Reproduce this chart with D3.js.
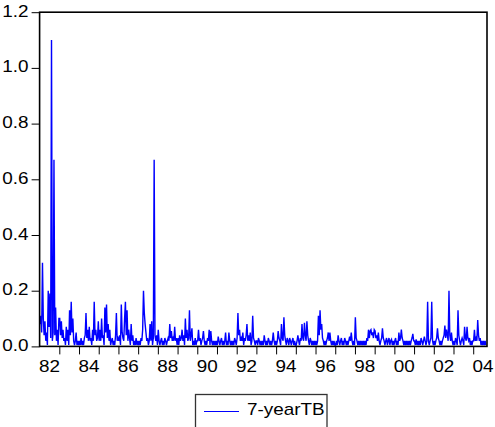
<!DOCTYPE html>
<html><head><meta charset="utf-8">
<script src="https://cdn.jsdelivr.net/npm/d3@7"></script>
<style>body{margin:0;background:#fff}svg{display:block}</style>
</head><body>
<svg id="c" width="495" height="427"></svg>
<script>
const seriesName = "7-yearTB";
const startYear = 1982;
const periodsPerYear = 24;
const yTickValues = [0, 0.2, 0.4, 0.6, 0.8, 1.0, 1.2];
const yearTicks = [1983,1984,1985,1986,1987,1988,1989,1990,1991,1992,1993,1994,1995,1996,1997,1998,1999,2000,2001,2002,2003,2004];
const yearLabels = ["82","84","86","88","90","92","94","96","98","00","02","04"];
const labelYears = [1982,1984,1986,1988,1990,1992,1994,1996,1998,2000,2002,2004];

const v1982 = [0.08,0.11,0.05,0.30,0.10,0.04,0.09,0.02,0.05,0.005,0.20,0.07,0.19,0.03,1.10,0.02,0.05,0.67,0.04,0.14,0.02,0.06,0.005,0.10];
const v1983 = [0.10,0.04,0.09,0.03,0.06,0.02,0.03,0.005,0.07,0.02,0.06,0.005,0.13,0.04,0.16,0.05,0.10,0.02,0.005,0.02,0.05,0.005,0.02,0.005];
const v1984 = [0.02,0.005,0.03,0.005,0.02,0.005,0.03,0.04,0.12,0.03,0.06,0.02,0.07,0.02,0.03,0.005,0.06,0.02,0.16,0.04,0.06,0.02,0.03,0.09];
const v1985 = [0.02,0.06,0.02,0.10,0.03,0.04,0.005,0.14,0.05,0.15,0.03,0.08,0.02,0.06,0.005,0.02,0.03,0.005,0.02,0.005,0.04,0.12,0.02,0.03];
const v1986 = [0.02,0.04,0.005,0.15,0.05,0.03,0.02,0.10,0.16,0.04,0.13,0.02,0.06,0.03,0.005,0.08,0.02,0.04,0.005,0.02,0.005,0.03,0.005,0.02];
const v1987 = [0.005,0.02,0.005,0.03,0.02,0.06,0.20,0.12,0.08,0.05,0.02,0.03,0.005,0.02,0.08,0.02,0.09,0.005,0.03,0.67,0.04,0.02,0.04,0.005];
const v1988 = [0.06,0.02,0.005,0.02,0.03,0.005,0.02,0.005,0.03,0.02,0.005,0.02,0.03,0.02,0.08,0.03,0.055,0.02,0.03,0.02,0.07,0.02,0.03,0.005];
const v1989 = [0.03,0.005,0.04,0.02,0.03,0.06,0.02,0.04,0.005,0.10,0.03,0.06,0.02,0.03,0.13,0.02,0.04,0.065,0.005,0.02,0.005,0.03,0.005,0.02];
const v1990 = [0.02,0.06,0.02,0.03,0.005,0.02,0.03,0.055,0.02,0.005,0.02,0.005,0.03,0.02,0.06,0.005,0.055,0.02,0.005,0.02,0.005,0.02,0.005,0.02];
const v1991 = [0.005,0.035,0.02,0.005,0.02,0.03,0.005,0.02,0.005,0.02,0.05,0.005,0.02,0.005,0.05,0.02,0.005,0.02,0.005,0.02,0.005,0.03,0.02,0.005];
const v1992 = [0.03,0.12,0.04,0.06,0.02,0.03,0.02,0.05,0.005,0.03,0.02,0.04,0.08,0.02,0.04,0.02,0.05,0.005,0.02,0.11,0.03,0.02,0.005,0.02];
const v1993 = [0.02,0.005,0.03,0.02,0.005,0.02,0.005,0.02,0.005,0.04,0.02,0.005,0.02,0.005,0.03,0.02,0.005,0.02,0.005,0.02,0.05,0.02,0.005,0.02];
const v1994 = [0.005,0.02,0.055,0.03,0.02,0.005,0.08,0.03,0.02,0.105,0.04,0.02,0.005,0.03,0.02,0.005,0.03,0.02,0.005,0.02,0.03,0.005,0.02,0.005];
const v1995 = [0.005,0.02,0.04,0.02,0.005,0.03,0.02,0.08,0.03,0.02,0.085,0.04,0.02,0.09,0.04,0.02,0.005,0.03,0.02,0.005,0.02,0.005,0.02,0.005];
const v1996 = [0.02,0.005,0.02,0.11,0.04,0.13,0.06,0.08,0.03,0.02,0.005,0.02,0.005,0.02,0.03,0.05,0.02,0.05,0.02,0.005,0.02,0.005,0.02,0.005];
const v1997 = [0.005,0.02,0.005,0.04,0.02,0.005,0.02,0.03,0.005,0.02,0.005,0.03,0.02,0.005,0.02,0.005,0.02,0.035,0.02,0.05,0.02,0.005,0.02,0.005];
const v1998 = [0.105,0.03,0.02,0.005,0.02,0.005,0.02,0.005,0.02,0.005,0.02,0.005,0.02,0.005,0.03,0.02,0.06,0.03,0.055,0.06,0.04,0.05,0.03,0.06];
const v1999 = [0.055,0.03,0.04,0.02,0.05,0.02,0.005,0.02,0.03,0.065,0.03,0.02,0.005,0.02,0.03,0.005,0.02,0.03,0.005,0.02,0.025,0.005,0.02,0.005];
const v2000 = [0.02,0.03,0.005,0.02,0.005,0.05,0.02,0.03,0.06,0.03,0.02,0.005,0.02,0.005,0.02,0.005,0.02,0.005,0.02,0.005,0.02,0.03,0.045,0.02];
const v2001 = [0.02,0.005,0.025,0.005,0.02,0.005,0.02,0.005,0.03,0.02,0.005,0.02,0.035,0.02,0.005,0.02,0.16,0.02,0.005,0.02,0.03,0.16,0.02,0.005];
const v2002 = [0.02,0.005,0.02,0.03,0.065,0.03,0.02,0.005,0.02,0.005,0.02,0.03,0.04,0.075,0.03,0.06,0.04,0.02,0.20,0.04,0.02,0.05,0.02,0.005];
const v2003 = [0.02,0.005,0.03,0.02,0.005,0.13,0.04,0.02,0.005,0.02,0.03,0.02,0.005,0.07,0.03,0.02,0.07,0.03,0.02,0.03,0.005,0.02,0.005,0.02];
const v2004 = [0.02,0.06,0.02,0.03,0.02,0.095,0.04,0.02,0.03,0.005,0.02,0.005,0.02,0.005,0.02,0.005];

const yearly = [v1982,v1983,v1984,v1985,v1986,v1987,v1988,v1989,v1990,v1991,v1992,v1993,v1994,v1995,v1996,v1997,v1998,v1999,v2000,v2001,v2002,v2003,v2004];
const data = [];
yearly.forEach((arr, k) => arr.forEach((v, i) => data.push({t: startYear + k + (i + 0.5) / periodsPerYear, v})));

const FONT = "'Liberation Sans', Arial, sans-serif";
const FS = 16, SX = 1.18;

const svg = d3.select("#c");
const x = d3.scaleLinear().domain([1982, 2004.7]).range([39.6, 487]);
const y = d3.scaleLinear().domain([0, 1.2]).range([346.4, 12.2]);

// series line
svg.append("path").datum(data)
  .attr("fill", "none").attr("stroke", "#0000ff").attr("stroke-width", 1.4)
  .attr("stroke-linejoin", "miter")
  .attr("d", d3.line().x(d => x(d.t)).y(d => y(d.v)));

// frame
svg.append("rect").attr("x", 39.6).attr("y", 12.2).attr("width", 487 - 39.6).attr("height", 346.4 - 12.2)
  .attr("fill", "none").attr("stroke", "#000").attr("stroke-width", 1.6);

// y axis
const gy = svg.append("g").attr("transform", "translate(39.6,0)")
  .call(d3.axisLeft(y).tickValues(yTickValues).tickSize(8).tickFormat(d3.format(".1f")));
gy.select(".domain").remove();
gy.selectAll(".tick line").attr("stroke", "#000").attr("stroke-width", 1);
gy.selectAll(".tick text")
  .attr("x", null).attr("dy", null)
  .attr("transform", "translate(-11,4) scale(" + SX + ",1)")
  .attr("text-anchor", "end")
  .style("font-family", FONT).style("font-size", FS + "px").attr("fill", "#000");

// x axis ticks
const gx = svg.append("g").attr("transform", "translate(0,346.4)")
  .call(d3.axisBottom(x).tickValues(yearTicks).tickSize(8).tickFormat(""));
gx.select(".domain").remove();
gx.selectAll(".tick line").attr("stroke", "#000").attr("stroke-width", 1);

// x labels centered mid-year
svg.append("g").selectAll("text").data(labelYears).join("text")
  .attr("transform", d => "translate(" + x(d + 0.5) + ",372) scale(" + SX + ",1)")
  .attr("text-anchor", "middle")
  .style("font-family", FONT).style("font-size", FS + "px").attr("fill", "#000")
  .text((d, i) => yearLabels[i]);

// legend
const lg = svg.append("g");
lg.append("rect").attr("x", 195.5).attr("y", 394.5).attr("width", 131.5).attr("height", 40)
  .attr("fill", "#fff").attr("stroke", "#333").attr("stroke-width", 1.3);
lg.append("line").attr("x1", 204).attr("x2", 239).attr("y1", 411.5).attr("y2", 411.5)
  .attr("stroke", "#0000ff").attr("stroke-width", 1);
lg.append("text").attr("transform", "translate(247,415) scale(" + SX + ",1)")
  .style("font-family", FONT).style("font-size", FS + "px").attr("fill", "#000")
  .text(seriesName);
</script>
</body></html>
